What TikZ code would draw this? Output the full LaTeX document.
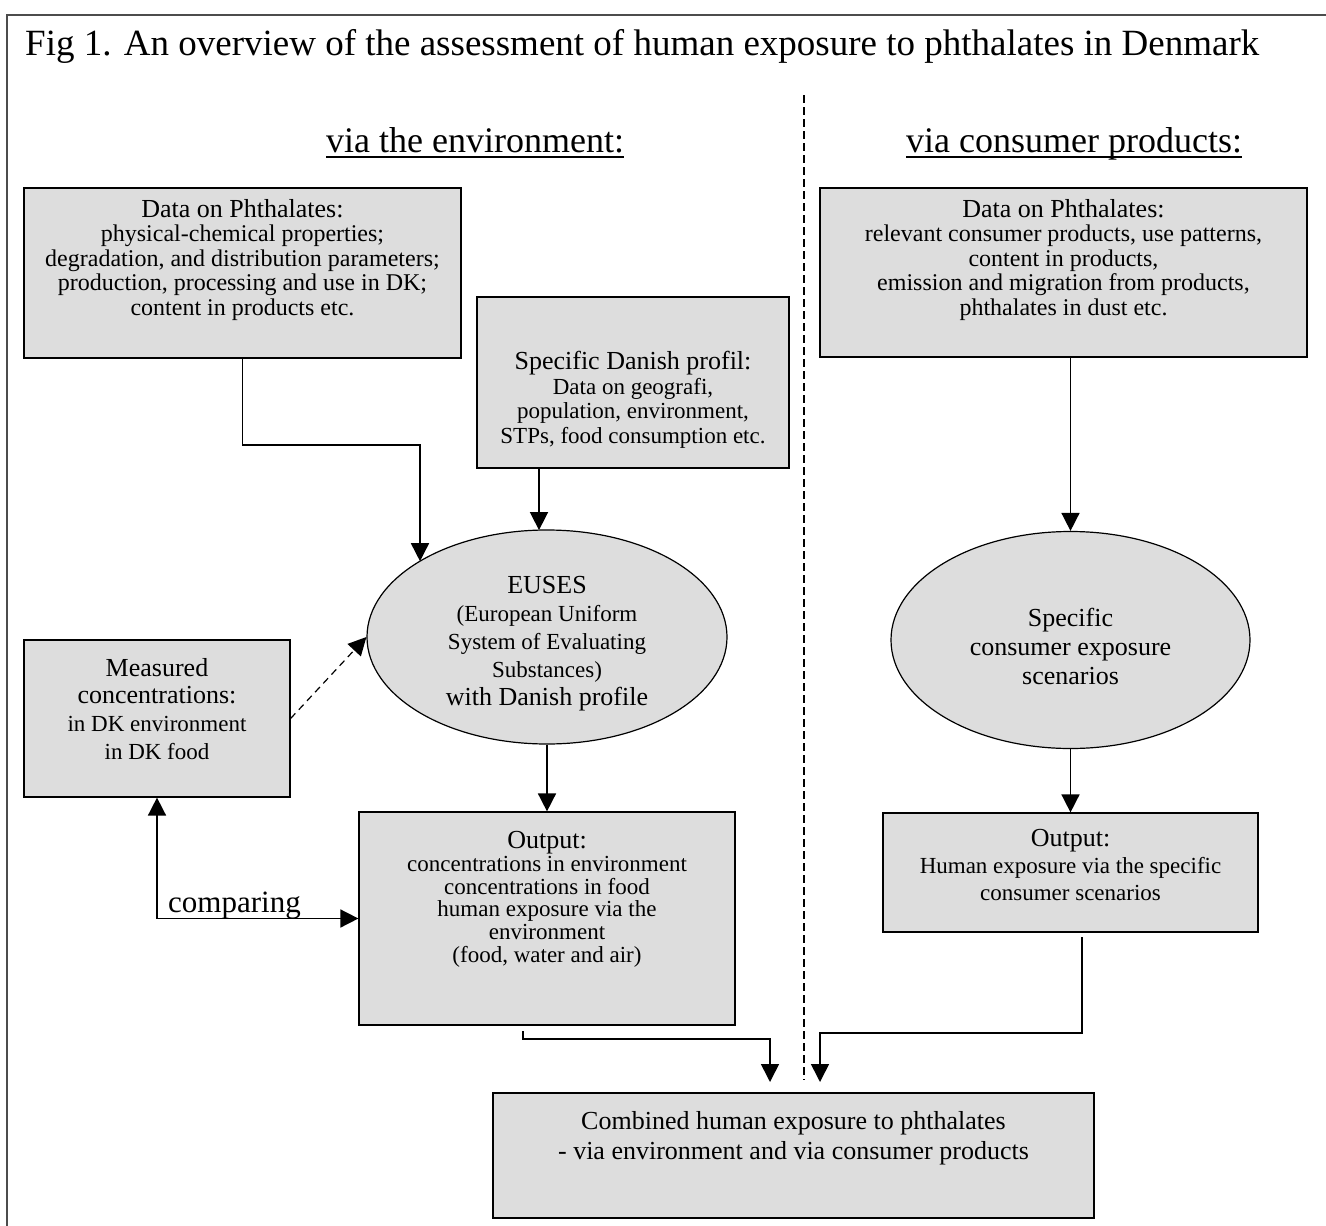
\documentclass[tikz,border=0pt]{standalone}
\usepackage{fontspec}
\setmainfont{Liberation Serif}
\usetikzlibrary{arrows.meta,shapes.geometric}
\definecolor{boxgray}{HTML}{DDDDDD}
\newcommand\fTitle{\fontsize{37}{40}\selectfont}
\newcommand\fHead{\fontsize{36}{40}\selectfont}
\newcommand\fHdr{\fontsize{26}{27}\selectfont}
\newcommand\fCmp{\fontsize{31}{33}\selectfont}
\begin{document}
\begin{tikzpicture}[x=1pt,y=-1pt,
  box/.style={draw=black,line width=1.2pt,fill=boxgray,inner sep=0pt,rectangle},
  ell/.style={draw=black,line width=1.2pt,fill=boxgray,inner sep=0pt,ellipse},
  txt/.style={align=center,inner sep=0pt,anchor=north},
  arr/.style={line width=1.6pt,-{Triangle[length=18pt,width=18pt]}},
  darr/.style={line width=1.6pt,{Triangle[length=18pt,width=18pt]}-{Triangle[length=18pt,width=18pt]}},
  dasharr/.style={line width=1.2pt,dash pattern=on 7pt off 5pt,-{Triangle[length=18pt,width=18pt]}},
  divider/.style={line width=1.3pt,dash pattern=on 8pt off 4pt},
  uline/.style={line width=1.5pt}]
\useasboundingbox (0,0) rectangle (1326,1226);
\fill[white] (0,0) rectangle (1326,1226);
% frame
\draw[line width=1.5pt,draw=black!70] (1326,15) -- (7,15) -- (7,1226);
% title and headings
\node[anchor=base west,inner sep=0pt,font=\fTitle] (title) at (25,55) {Fig 1. An overview of the assessment of human exposure to phthalates in Denmark};
\node[anchor=base west,inner sep=0pt,font=\fHead] (h1) at (326,152) {via the environment:};
\node[anchor=base west,inner sep=0pt,font=\fHead] (h2) at (906,152) {via consumer products:};
\draw[uline] ([yshift=-5pt]h1.base west) -- ([yshift=-5pt]h1.base east);
\draw[uline] ([yshift=-5pt]h2.base west) -- ([yshift=-5pt]h2.base east);
% divider
\draw[divider] (804,95) -- (804,1080);
% boxes
\node[box,minimum width=437pt,minimum height=170pt] (b1) at (242.5,273) {};
\node[box,minimum width=312pt,minimum height=171pt] (dan) at (633,382.5) {};
\node[box,minimum width=487pt,minimum height=169pt] (rbox) at (1063.5,272.5) {};
\node[ell,minimum width=360pt,minimum height=214pt] (euses) at (547,637) {};
\node[box,minimum width=266pt,minimum height=157pt] (meas) at (157,718.5) {};
\node[box,minimum width=376pt,minimum height=213pt] (outL) at (547,918.5) {};
\node[ell,minimum width=359pt,minimum height=217pt] (rell) at (1070.5,640) {};
\node[box,minimum width=375pt,minimum height=119pt] (outR) at (1070.5,872.5) {};
\node[box,minimum width=601pt,minimum height=125pt] (bot) at (793.5,1155.5) {};
% texts
\node[txt,font=\fontsize{24}{24.5}\selectfont] (b1t) at (242.5,199) {{\fHdr Data on Phthalates:}\\physical-chemical properties;\\degradation, and distribution parameters;\\production, processing and use in DK;\\content in products etc.};
\node[txt,font=\fontsize{23}{24.5}\selectfont] (dant) at (633,351) {{\fHdr Specific Danish profil:}\\Data on geografi,\\population, environment,\\STPs, food consumption etc.};
\node[txt,font=\fontsize{24}{24.5}\selectfont] (rboxt) at (1063.5,199) {{\fHdr Data on Phthalates:}\\relevant consumer products, use patterns,\\content in products,\\emission and migration from products,\\phthalates in dust etc.};
\node[txt,font=\fontsize{23}{28}\selectfont] (eusest) at (547,576) {{\fHdr EUSES}\\(European Uniform\\System of Evaluating\\Substances)\\{\fHdr with Danish profile}};
\node[txt,font=\fontsize{26}{27.7}\selectfont] (meast) at (157,658) {Measured\\concentrations:\\{\fontsize{23}{27.7}\selectfont in DK environment}\\{\fontsize{23}{27.7}\selectfont in DK food}};
\node[txt,font=\fontsize{23}{22.8}\selectfont] (outLt) at (547,831) {{\fHdr Output:}\\concentrations in environment\\concentrations in food\\human exposure via the\\environment\\(food, water and air)};
\node[txt,font=\fontsize{26}{29}\selectfont] (rellt) at (1070.5,608) {Specific\\consumer exposure\\scenarios};
\node[txt,font=\fontsize{23}{27}\selectfont] (outRt) at (1070.5,829) {{\fHdr Output:}\\Human exposure via the specific\\consumer scenarios};
\node[txt,font=\fontsize{26}{30}\selectfont] (bott) at (793.5,1111) {Combined human exposure to phthalates\\- via environment and via consumer products};
% connectors
\coordinate (c1) at (420,445);
\coordinate (e1) at (420,561.2);
\coordinate (e2) at (539,530.1);
\draw[arr] (b1.south) |- (c1) -- (e1);
\draw[arr] (dan.south -| e2) -- (e2);
\draw[dasharr] (meas.east) -- (euses.west);
\draw[arr] (euses.south) -- (outL.north);
\draw[darr] (meas.south) |- (outL.west);
\node[anchor=base west,inner sep=0pt,font=\fCmp] (cmp) at (168,912) {comparing};
\draw[arr] (rbox.south -| rell.north) -- (rell.north);
\draw[arr] (rell.south) -- (outR.north);
\coordinate (la) at (523,1031);
\coordinate (lm) at (770,1039);
\coordinate (lb) at (770,1082);
\draw[arr] (la) |- (lm) -- (lb);
\coordinate (ra) at (1082,937);
\coordinate (rm) at (820,1033);
\coordinate (rb) at (820,1082);
\draw[arr] (ra) |- (rm) -- (rb);
\end{tikzpicture}
\end{document}
